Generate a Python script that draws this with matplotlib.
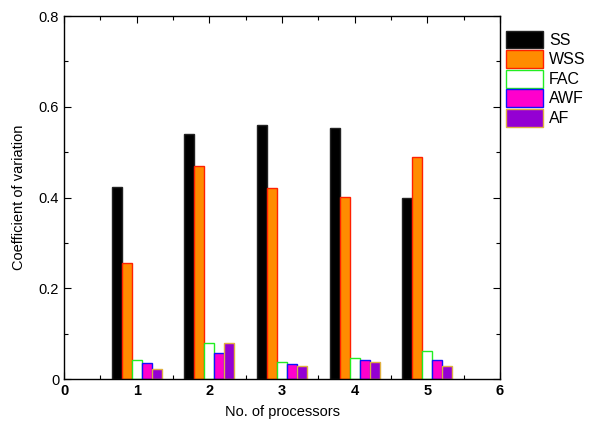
import numpy as np
import matplotlib.pyplot as plt
from matplotlib.ticker import MultipleLocator

plt.rcParams['font.family'] = ['Liberation Sans', 'DejaVu Sans']

procs = [1, 2, 3, 4, 5]
labels = ["SS", "WSS", "FAC", "AWF", "AF"]
ss = [0.424, 0.540, 0.560, 0.553, 0.399]
wss = [0.255, 0.470, 0.421, 0.401, 0.490]
fac = [0.041, 0.079, 0.038, 0.046, 0.061]
awf = [0.035, 0.057, 0.034, 0.041, 0.043]
af = [0.021, 0.080, 0.029, 0.038, 0.029]
yticks = [0, 0.2, 0.4, 0.6, 0.8]
ytick_labels = ["0", "0.2", "0.4", "0.6", "0.8"]

series = [ss, wss, fac, awf, af]
fills = ["#000000", "#ff8c00", "#ffffff", "#ff00cc", "#9400d3"]
edges = ["#222222", "#ff2000", "#22ee22", "#1010ff", "#e0b040"]

fig = plt.figure(figsize=(5.89, 4.26), dpi=100)
ax = fig.add_axes([0.1087, 0.1103, 0.7402, 0.8521])

w = 0.138
x = np.array(procs)
for i, (vals, fc, ec, lab) in enumerate(zip(series, fills, edges, labels)):
    ax.bar(x + (i - 2) * w, vals, width=w, color=fc, edgecolor=ec,
           linewidth=1.0, label=lab, zorder=2)

ax.set_xlim(0, 6)
ax.set_ylim(0, 0.8)
ax.xaxis.set_major_locator(MultipleLocator(1))
ax.xaxis.set_minor_locator(MultipleLocator(0.5))
ax.set_yticks(yticks, ytick_labels)
ax.yaxis.set_minor_locator(MultipleLocator(0.1))
ax.tick_params(which='both', direction='in', top=True, right=True, labelsize=10.5)
ax.tick_params(which='major', length=5, width=0.8)
ax.tick_params(which='minor', length=3, width=0.8)
for t in ax.get_xticklabels():
    t.set_fontweight('bold')
for s in ax.spines.values():
    s.set_linewidth(1.0)

ax.set_xlabel("No. of processors", fontsize=10.5, labelpad=5)
ax.set_ylabel("Coefficient of variation", fontsize=10.5, labelpad=9)

ax.legend(loc='upper left', bbox_to_anchor=(1.013, 0.96), frameon=False,
          handlelength=2.35, handleheight=1.35, labelspacing=0.1,
          handletextpad=0.35, borderaxespad=0, borderpad=0, fontsize=11.5)

plt.savefig('out.png', dpi=100)
